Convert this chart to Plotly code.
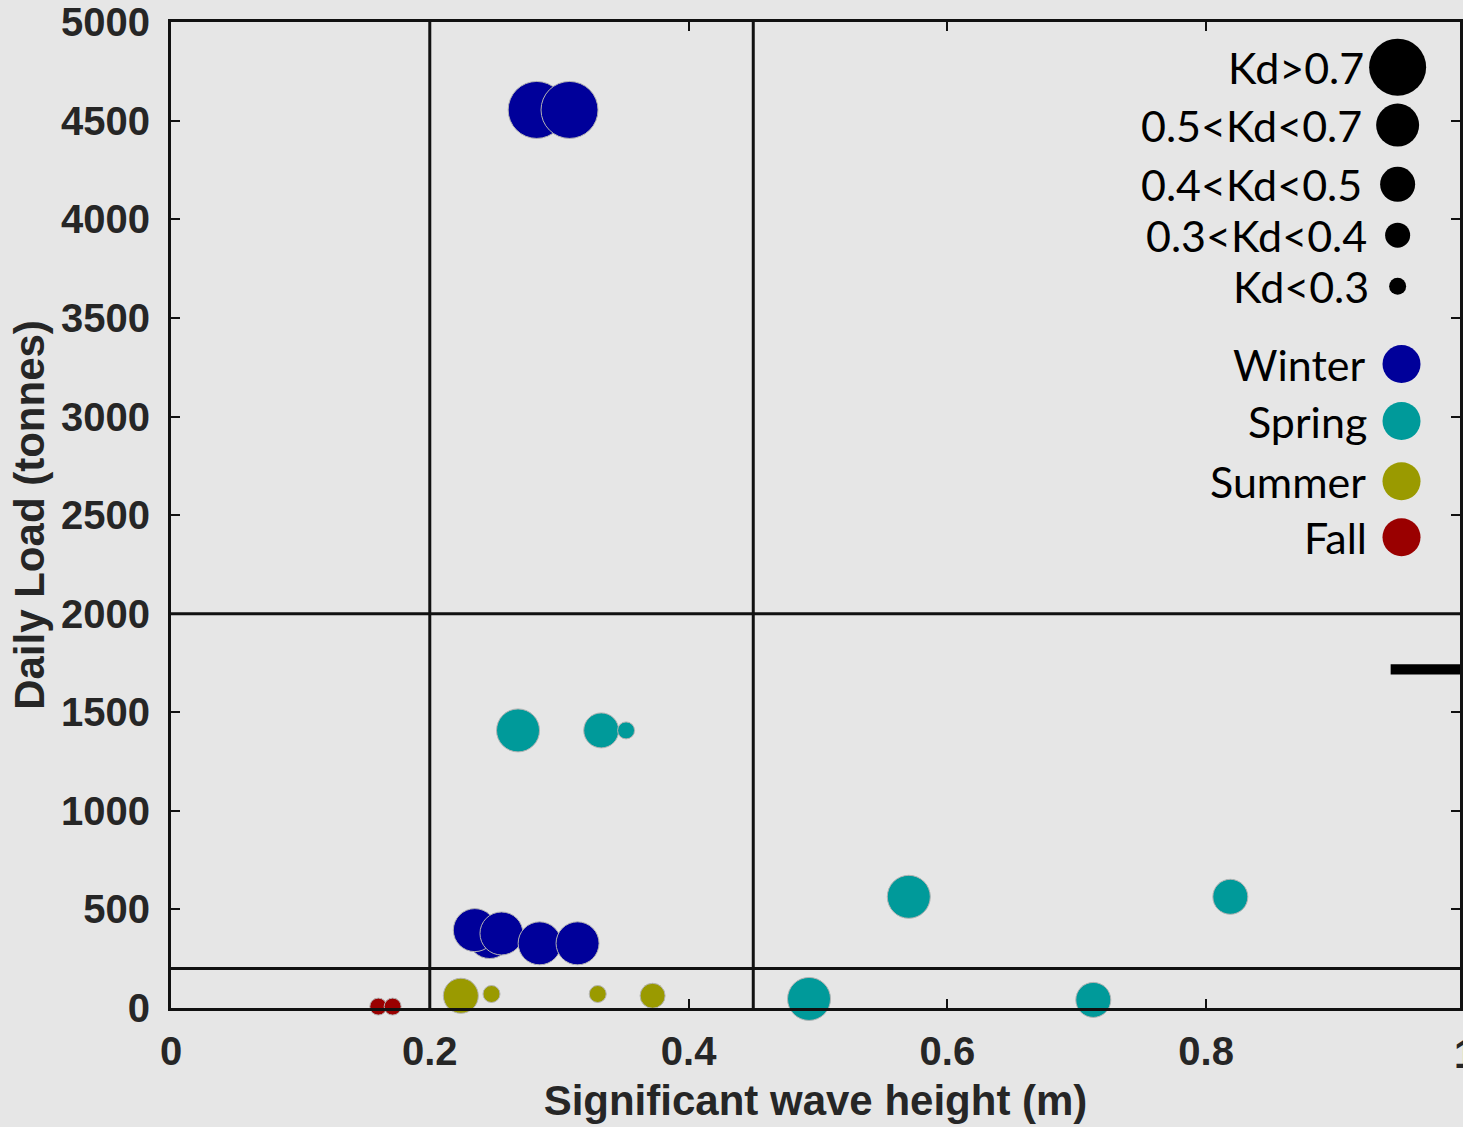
import plotly.graph_objects as go

# ---------------- data ----------------
seasons = ["Winter", "Spring", "Summer", "Fall"]
season_colors = ["#00009a", "#009a9a", "#9a9a00", "#9a0000"]

winter_x = [0.2826, 0.3080, 0.2463, 0.2348, 0.2554, 0.2849, 0.3142]
winter_y = [4555, 4555, 360, 395, 378, 328, 328]
winter_kd = [">0.7", ">0.7", "0.5-0.7", "0.5-0.7", "0.5-0.7", "0.5-0.7", "0.5-0.7"]

spring_x = [0.2682, 0.3325, 0.3517, 0.5702, 0.8187, 0.4931, 0.7128]
spring_y = [1408, 1408, 1408, 564, 564, 46, 41]
spring_kd = ["0.5-0.7", "0.4-0.5", "<0.3", "0.5-0.7", "0.4-0.5", "0.5-0.7", "0.4-0.5"]

summer_x = [0.2240, 0.2477, 0.3298, 0.3722]
summer_y = [62, 71, 71, 62]
summer_kd = ["0.4-0.5", "<0.3", "<0.3", "0.3-0.4"]

fall_x = [0.1602, 0.1713]
fall_y = [7, 7]
fall_kd = ["<0.3", "<0.3"]

kd_classes = [">0.7", "0.5-0.7", "0.4-0.5", "0.3-0.4", "<0.3"]
kd_labels = ["Kd>0.7", "0.5<Kd<0.7", "0.4<Kd<0.5", "0.3<Kd<0.4", "Kd<0.3"]

x_ticks = [0, 0.2, 0.4, 0.6, 0.8, 1]
x_ticklabels = ["0", "0.2", "0.4", "0.6", "0.8", "1"]
y_ticks = list(range(0, 5001, 500))

hs_thresholds = [0.2, 0.45]
load_thresholds = [200, 2000]

# ---------------- styles ----------------
kd_size = {">0.7": 57, "0.5-0.7": 43, "0.4-0.5": 35, "0.3-0.4": 25, "<0.3": 17}
BG = "#e6e6e6"
LINE = "#111111"
TICKFONT = dict(family="Liberation Sans, Arial, sans-serif", size=40, color="#262626")
TITLEFONT = dict(family="Liberation Sans, Arial, sans-serif", size=42, color="#262626")
LEGFONT = dict(family="Lato, sans-serif", size=43, color="#000000")

fig = go.Figure()

series = [(winter_x, winter_y, winter_kd), (spring_x, spring_y, spring_kd),
          (summer_x, summer_y, summer_kd), (fall_x, fall_y, fall_kd)]
for name, col, (xs, ys, kds) in zip(seasons, season_colors, series):
    fig.add_trace(go.Scatter(
        x=xs, y=ys, mode="markers", name=name, showlegend=False,
        marker=dict(color=col, size=[kd_size[k] for k in kds],
                    line=dict(color="#b4b4b4", width=1), opacity=1),
        cliponaxis=False,
    ))

# threshold lines
shapes = []
for xv in hs_thresholds:
    shapes.append(dict(type="line", xref="x", yref="paper", x0=xv, x1=xv, y0=0, y1=1,
                       line=dict(color=LINE, width=3)))
for yv in load_thresholds:
    shapes.append(dict(type="line", xref="paper", yref="y", x0=0, x1=1, y0=yv, y1=yv,
                       line=dict(color=LINE, width=3)))
# stray black bar at right edge
shapes.append(dict(type="rect", xref="x", yref="y", x0=0.9426, x1=1.0, y0=1692, y1=1743,
                   fillcolor="#000000", line=dict(width=0)))

# ---------------- custom legend ----------------
size_leg_y = [4772, 4478, 4178, 3920, 3661]
size_leg_text_x = [0.9233, 0.9218, 0.9218, 0.9256, 0.9272]
size_leg_marker_x = 0.9480
season_leg_y = [3266, 2977, 2672, 2388]
season_leg_text_x = [0.9241, 0.9256, 0.9248, 0.9256]
season_leg_marker_x = 0.9510

fig.add_trace(go.Scatter(
    x=[size_leg_marker_x] * len(kd_classes), y=size_leg_y, mode="markers",
    showlegend=False, hoverinfo="skip",
    marker=dict(color="#000000", size=[kd_size[k] for k in kd_classes],
                line=dict(width=0), opacity=1),
    cliponaxis=False,
))
fig.add_trace(go.Scatter(
    x=[season_leg_marker_x] * len(seasons), y=season_leg_y, mode="markers",
    showlegend=False, hoverinfo="skip",
    marker=dict(color=season_colors, size=38, line=dict(width=0), opacity=1),
    cliponaxis=False,
))

annotations = []
for lab, yy, xx in zip(kd_labels, size_leg_y, size_leg_text_x):
    annotations.append(dict(x=xx, y=yy, xref="x", yref="y", text=lab, showarrow=False,
                            xanchor="right", yanchor="middle", font=LEGFONT))
for lab, yy, xx in zip(seasons, season_leg_y, season_leg_text_x):
    annotations.append(dict(x=xx, y=yy, xref="x", yref="y", text=lab, showarrow=False,
                            xanchor="right", yanchor="middle", font=LEGFONT))
# the "1" tick label that sits at the clipped right edge
annotations.append(dict(x=1.0 / 0.9962, y=0, xref="paper", yref="paper", text="<b>1</b>",
                        showarrow=False, xanchor="center", yanchor="top", yshift=-22,
                        font=TICKFONT))

fig.update_layout(
    width=1463, height=1127,
    margin=dict(l=171, r=0, t=21, b=119),
    paper_bgcolor=BG, plot_bgcolor=BG,
    shapes=shapes, annotations=annotations,
    showlegend=False,
)
fig.update_xaxes(
    range=[0, 0.9962], tickvals=x_ticks, ticktext=["<b>%s</b>" % t for t in x_ticklabels],
    ticks="inside", ticklen=9, tickwidth=2, tickcolor=LINE, mirror="ticks",
    showline=True, linecolor=LINE, linewidth=3, showgrid=False, zeroline=False,
    tickfont=TICKFONT, ticklabelstandoff=6,
    title=dict(text="<b>Significant wave height (m)</b>", font=TITLEFONT, standoff=14),
)
fig.update_yaxes(
    range=[0, 5001], tickvals=y_ticks, ticktext=["<b>%d</b>" % t for t in y_ticks],
    ticks="inside", ticklen=9, tickwidth=2, tickcolor=LINE, mirror="ticks",
    showline=True, linecolor=LINE, linewidth=3, showgrid=False, zeroline=False,
    tickfont=TICKFONT, ticklabelstandoff=10, ticklabeloverflow="allow",
    title=dict(text="<b>Daily Load (tonnes)</b>", font=TITLEFONT, standoff=4),
)

fig.write_html("out.html")
